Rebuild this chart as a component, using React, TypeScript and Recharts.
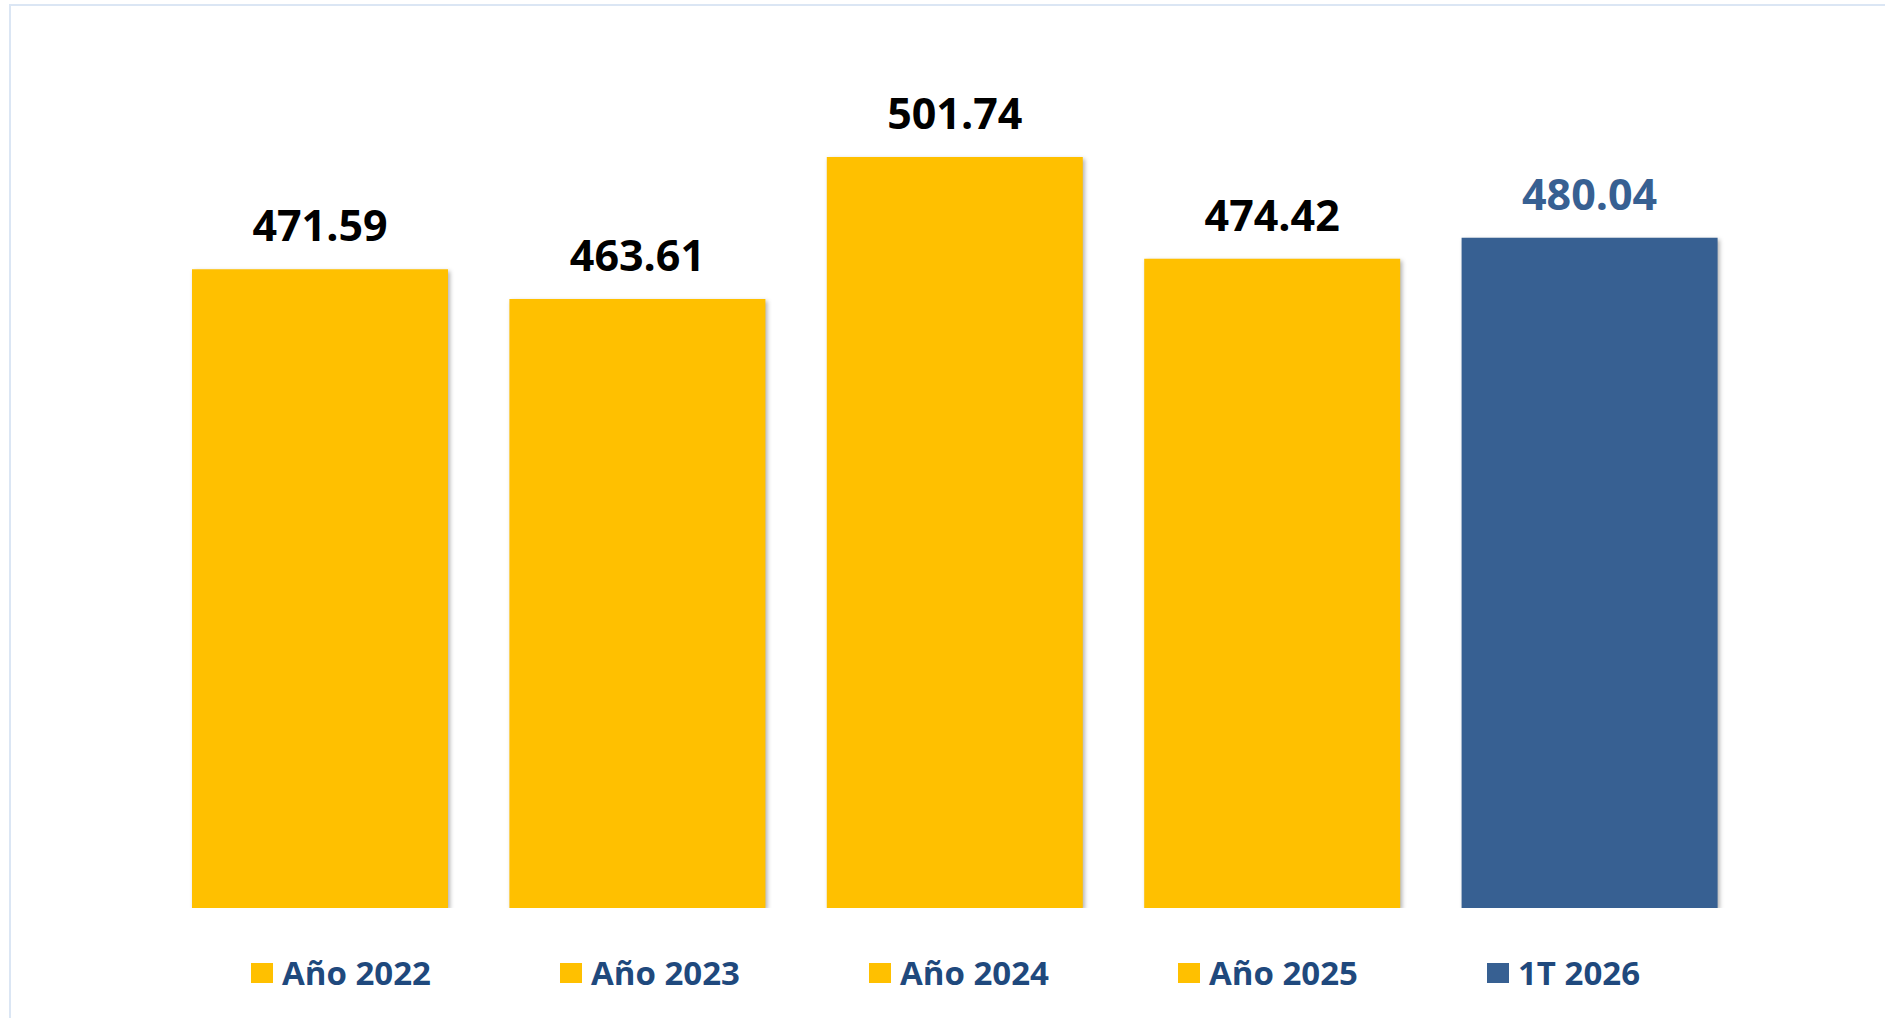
import React from "react";
import { BarChart, Bar, Cell, XAxis, YAxis, LabelList } from "recharts";

const categories = ["Año 2022", "Año 2023", "Año 2024", "Año 2025", "1T 2026"];
const values = [471.59, 463.61, 501.74, 474.42, 480.04];
const barColors = ["#FFC000", "#FFC000", "#FFC000", "#FFC000", "#376092"];
const labelColors = ["#000000", "#000000", "#000000", "#000000", "#376092"];

const data = categories.map((name, i) => ({ name, value: values[i] }));

const FONT = "'Open Sans', 'Noto Sans', sans-serif";

function ValueLabel(props: any) {
  const { x, y, width, index, value } = props;
  return (
    <text
      x={x + width / 2}
      y={y - 28}
      textAnchor="middle"
      fontFamily={FONT}
      fontWeight={700}
      fontSize={43}
      fill={labelColors[index]}
    >
      {Number(value).toFixed(2)}
    </text>
  );
}

// legend drawn as plain html under the plot so it takes no room from the bars
function CustomLegend() {
  return (
    <div style={{ position: "absolute", left: 251, top: 953, display: "flex" }}>
      {categories.map((c, i) => (
        <div key={c} style={{ width: 309, display: "flex", alignItems: "center" }}>
          <span
            style={{
              display: "inline-block",
              width: 22,
              height: 20,
              background: barColors[i],
              marginRight: 9,
            }}
          />
          <span
            style={{
              fontFamily: FONT,
              fontWeight: 700,
              fontSize: 33,
              color: "#1F497D",
              lineHeight: "40px",
            }}
          >
            {c}
          </span>
        </div>
      ))}
    </div>
  );
}

export default function App() {
  return (
    <div
      style={{
        position: "absolute",
        left: 0,
        top: 0,
        width: 1885,
        height: 1018,
        background: "#fff",
        overflow: "hidden",
      }}
    >
      <div
        style={{
          position: "absolute",
          left: 9,
          top: 4,
          width: 1900,
          height: 1100,
          borderTop: "2px solid #dbe6f4",
          borderLeft: "2px solid #dbe6f4",
        }}
      />
      <BarChart
        width={1885}
        height={1018}
        data={data}
        margin={{ top: 89, right: 137, bottom: 110, left: 161 }}
      >
        <XAxis dataKey="name" hide />
        <YAxis domain={[300, 520]} hide allowDataOverflow />
        <Bar dataKey="value" barSize={256} isAnimationActive={false}>
          {data.map((d, i) => (
            <Cell
              key={d.name}
              fill={barColors[i]}
              style={{ filter: "drop-shadow(2px 2px 2px rgba(0,0,0,0.3))" }}
            />
          ))}
          <LabelList dataKey="value" content={ValueLabel} />
        </Bar>
      </BarChart>
      <CustomLegend />
    </div>
  );
}
